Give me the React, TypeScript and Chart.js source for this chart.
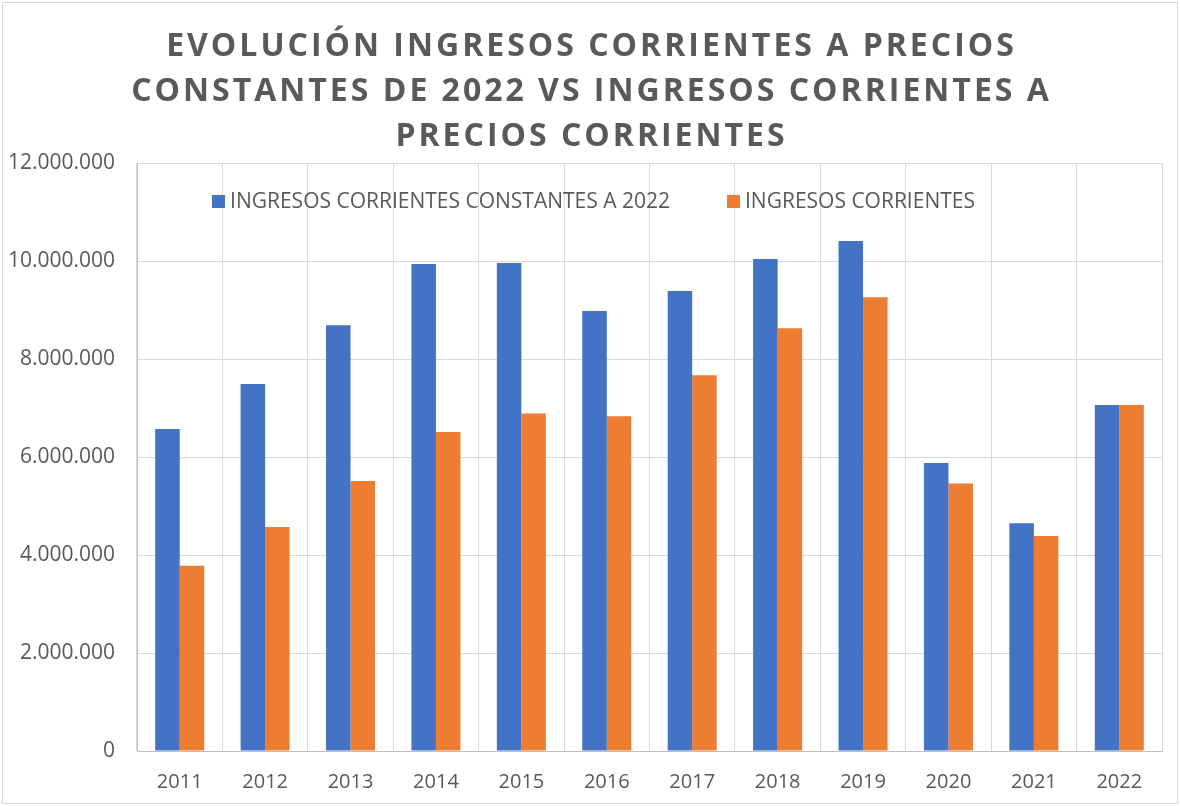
import React, { useEffect, useRef } from "react";
import { Chart, registerables } from "chart.js";

Chart.register(...registerables);

const years = ["2011", "2012", "2013", "2014", "2015", "2016", "2017", "2018", "2019", "2020", "2021", "2022"];
const constantes2022 = [6570000, 7490000, 8690000, 9940000, 9960000, 8980000, 9390000, 10040000, 10410000, 5880000, 4650000, 7060000];
const corrientes = [3780000, 4570000, 5510000, 6510000, 6890000, 6830000, 7670000, 8630000, 9260000, 5460000, 4390000, 7060000];
const seriesLabels = ["INGRESOS CORRIENTES CONSTANTES A 2022", "INGRESOS CORRIENTES"];
const titleLines = [
  "EVOLUCIÓN INGRESOS CORRIENTES A PRECIOS",
  "CONSTANTES DE 2022 VS INGRESOS CORRIENTES A",
  "PRECIOS CORRIENTES",
];
const yTicks = [0, 2000000, 4000000, 6000000, 8000000, 10000000, 12000000];

const FONT = '"Open Sans", "Liberation Sans", sans-serif';
const TEXT = "#595959";

function fmt(v: number): string {
  const s = Math.round(v).toString();
  return s.replace(/\B(?=(\d{3})+(?!\d))/g, ".");
}

const decorPlugin = {
  id: "decor",
  afterDraw(chart: any) {
    const ctx = chart.ctx as CanvasRenderingContext2D;
    // outer frame
    ctx.save();
    ctx.strokeStyle = "#d9d9d9";
    ctx.lineWidth = 1;
    ctx.strokeRect(2.5, 2.5, chart.width - 5, chart.height - 5);
    ctx.restore();

    // title
    ctx.save();
    ctx.font = `bold 32px ${FONT}`;
    ctx.fillStyle = TEXT;
    ctx.textAlign = "center";
    ctx.textBaseline = "middle";
    const ls = 3;
    (ctx as any).letterSpacing = `${ls}px`;
    const ys = [47, 92, 137];
    titleLines.forEach((line, i) => {
      ctx.fillText(line, 590 + ls / 2, ys[i]);
    });
    ctx.restore();

    // legend (overlaid inside plot)
    ctx.save();
    ctx.font = `21px ${FONT}`;
    ctx.textBaseline = "middle";
    ctx.textAlign = "left";
    const box = 13;
    const gapBoxText = 5;
    const gapItems = 57;
    const widths = chart.data.datasets.map((d: any) => ctx.measureText(d.label).width);
    let total = 0;
    widths.forEach((w: number, i: number) => {
      total += box + gapBoxText + w + (i < widths.length - 1 ? gapItems : 0);
    });
    let x = 593.5 - total / 2;
    const y = 201.5;
    chart.data.datasets.forEach((d: any, i: number) => {
      ctx.fillStyle = d.backgroundColor;
      ctx.fillRect(x, y - box / 2, box, box);
      ctx.fillStyle = TEXT;
      ctx.fillText(d.label, x + box + gapBoxText, y + 1);
      x += box + gapBoxText + widths[i] + gapItems;
    });
    ctx.restore();
  },
};

export default function App() {
  const ref = useRef<HTMLCanvasElement | null>(null);

  useEffect(() => {
    if (!ref.current) return;
    const chart = new Chart(ref.current, {
      type: "bar",
      data: {
        labels: years,
        datasets: [
          { label: seriesLabels[0], data: constantes2022, backgroundColor: "#4472C4" },
          { label: seriesLabels[1], data: corrientes, backgroundColor: "#ED7D31" },
        ],
      },
      options: {
        responsive: false,
        animation: false,
        devicePixelRatio: 1,
        layout: { padding: { top: 163, right: 18, left: 0, bottom: 0 } },
        datasets: {
          bar: { categoryPercentage: 0.574, barPercentage: 1.0 },
        },
        plugins: {
          legend: { display: false },
          title: { display: false },
          tooltip: { enabled: false },
        },
        scales: {
          x: {
            grid: { color: "#d9d9d9", lineWidth: 1, drawTicks: false, offset: true },
            border: { color: "#bfbfbf", width: 1 },
            ticks: { color: TEXT, font: { family: FONT, size: 20 }, padding: 19 },
            afterFit(scale: any) {
              scale.height = 55;
            },
          },
          y: {
            min: 0,
            max: 12000000,
            afterBuildTicks(scale: any) {
              scale.ticks = yTicks.map((v) => ({ value: v }));
            },
            grid: { color: "#d9d9d9", lineWidth: 1, drawTicks: false },
            border: { color: "#bfbfbf", width: 1 },
            ticks: {
              color: TEXT,
              font: { family: FONT, size: 21 },
              padding: 22,
              callback: (v: any) => fmt(Number(v)),
            },
            afterFit(scale: any) {
              scale.width = 137;
            },
          },
        },
      },
      plugins: [decorPlugin],
    });
    return () => chart.destroy();
  }, []);

  return (
    <div style={{ position: "absolute", left: 0, top: 0, width: 1180, height: 806, background: "#fff" }}>
      <canvas ref={ref} width={1180} height={806} style={{ display: "block", width: 1180, height: 806 }} />
    </div>
  );
}
